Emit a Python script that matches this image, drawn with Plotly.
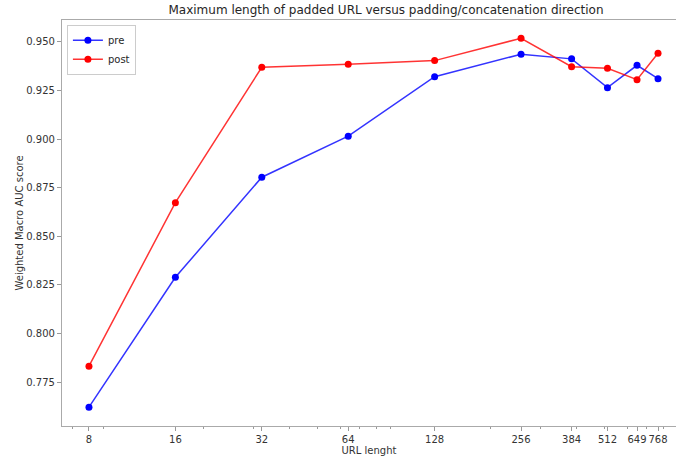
import plotly.graph_objects as go

url_length = [8, 16, 32, 64, 128, 256, 384, 512, 649, 768]
pre_auc = [0.7621, 0.8289, 0.8804, 0.9015, 0.9321, 0.9437, 0.9413, 0.9265, 0.9380, 0.9311]
post_auc = [0.7832, 0.8673, 0.9370, 0.9385, 0.9404, 0.9519, 0.9373, 0.9365, 0.9306, 0.9442]
x_tick_labels = ["8", "16", "32", "64", "128", "256", "384", "512", "649", "768"]
minor_ticks = [7, 9, 20, 30, 40, 50, 60, 70, 80, 90, 200, 300, 400, 500, 600, 700, 800, 900]

fig = go.Figure()
fig.add_trace(go.Scatter(
    x=url_length, y=pre_auc, mode="lines+markers", name="pre",
    line=dict(color="rgba(0,0,255,0.8)", width=1.5),
    marker=dict(color="rgb(0,0,255)", size=7),
))
fig.add_trace(go.Scatter(
    x=url_length, y=post_auc, mode="lines+markers", name="post",
    line=dict(color="rgba(255,0,0,0.8)", width=1.5),
    marker=dict(color="rgb(255,0,0)", size=7),
))

L, R, T, B = 62, 0, 20, 34
W, H = 676, 460
log2_to_log10 = 0.30103
fig.update_layout(
    width=W, height=H,
    margin=dict(l=L, r=R, t=T, b=B, autoexpand=False),
    plot_bgcolor="white", paper_bgcolor="white",
    font=dict(family="DejaVu Sans", size=10, color="#333333"),
    title=dict(
        text="Maximum length of padded URL versus padding/concatenation direction",
        x=(386 - L) / (W - L - R), xref="paper", xanchor="center",
        y=1 - 10 / H, yref="container", yanchor="middle",
        font=dict(size=12, color="#262626"),
    ),
    showlegend=True,
    legend=dict(
        x=0.008, y=0.988, xanchor="left", yanchor="top",
        bgcolor="rgba(255,255,255,0.8)", bordercolor="#cccccc", borderwidth=1,
        font=dict(size=10, color="#262626"),
        itemwidth=30, tracegroupgap=0,
    ),
)
fig.update_xaxes(
    type="log", automargin=False,
    range=[2.688 * log2_to_log10, 9.793 * log2_to_log10],
    tickmode="array", tickvals=url_length, ticktext=x_tick_labels, tickangle=0,
    ticks="outside", ticklen=4, tickcolor="#999999", tickwidth=1,
    showline=True, linecolor="#aaaaaa", linewidth=1.2, mirror=True,
    showgrid=False, zeroline=False,
    minor=dict(tickvals=minor_ticks, ticks="outside", ticklen=2, tickcolor="#999999", showgrid=False),
    title=dict(text="URL lenght", standoff=2, font=dict(size=10, color="#333333")),
)
fig.update_yaxes(
    automargin=False,
    range=[0.7524, 0.9613],
    tickmode="array", tickvals=[0.775, 0.800, 0.825, 0.850, 0.875, 0.900, 0.925, 0.950],
    tickformat=".3f",
    ticks="outside", ticklen=4, tickcolor="#999999", tickwidth=1,
    showline=True, linecolor="#aaaaaa", linewidth=1.2, mirror=False,
    showgrid=False, zeroline=False,
    title=dict(text="Weighted Macro AUC score", standoff=0, font=dict(size=10, color="#333333")),
)

fig.write_html(
    "out.html",
    config={"displayModeBar": False},
    post_script="document.body.style.margin='0';document.body.style.overflow='hidden';",
)
